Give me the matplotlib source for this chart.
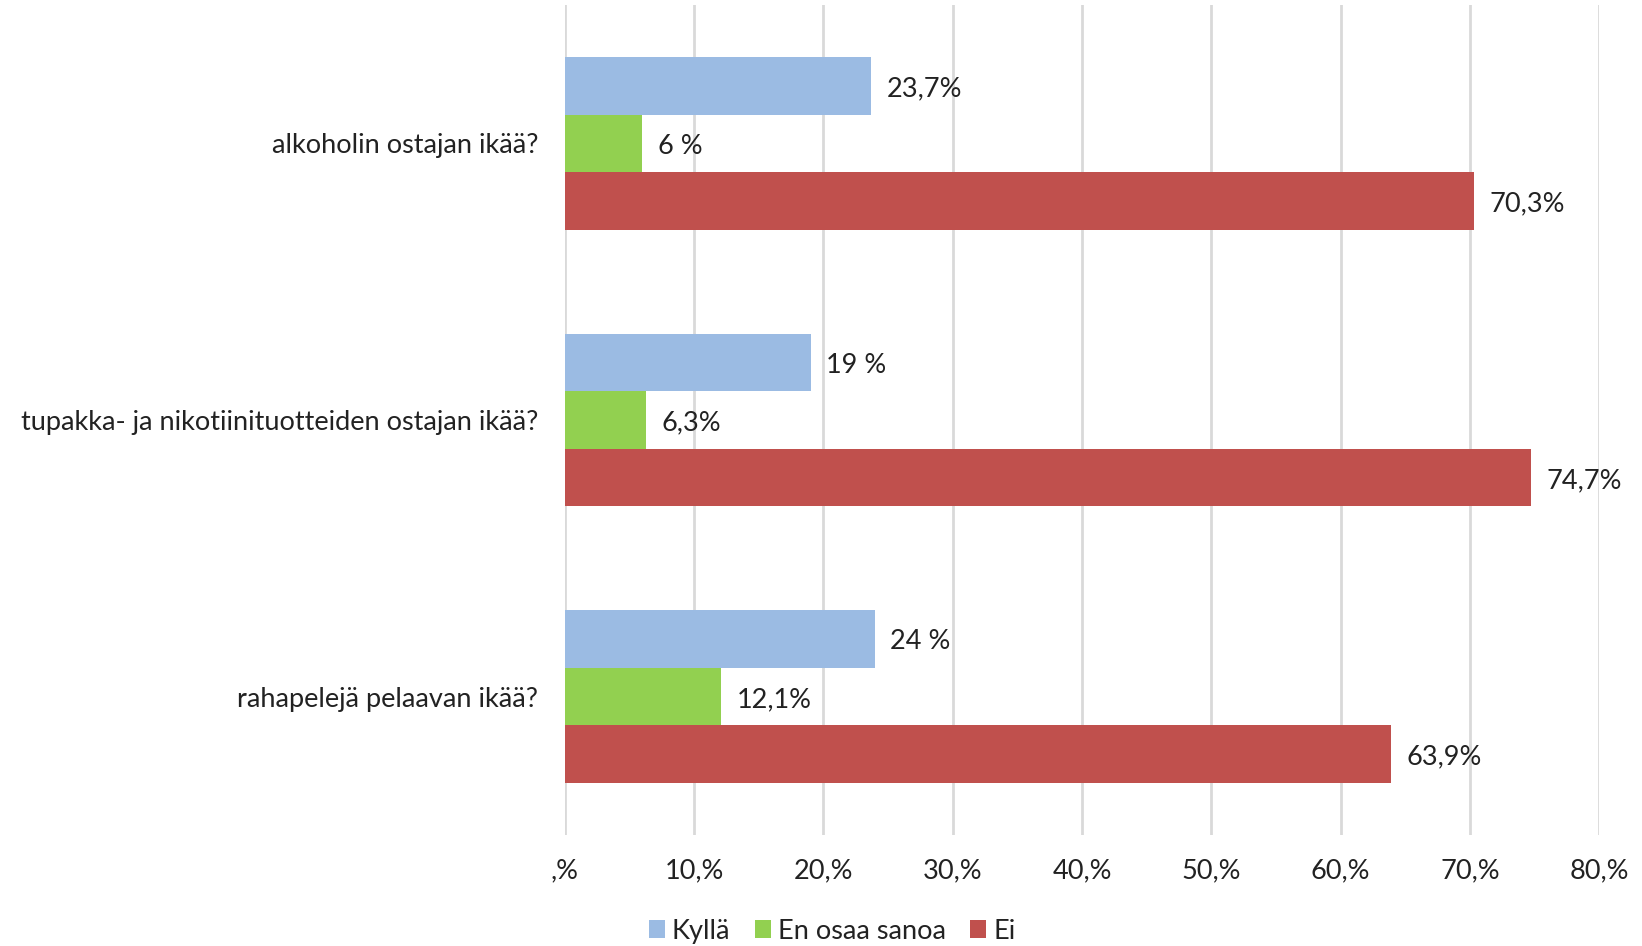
import matplotlib.pyplot as plt
import numpy as np

plt.rcParams['font.family'] = ['Lato', 'DejaVu Sans']

# Kysymykset
categories = ["alkoholin ostajan ikää?",
              "tupakka- ja nikotiinituotteiden ostajan ikää?",
              "rahapelejä pelaavan ikää?"]
series_names = ["Kyllä", "En osaa sanoa", "Ei"]
kylla = [23.7, 19.0, 24.0]
en_osaa = [6.0, 6.3, 12.1]
ei = [70.3, 74.7, 63.9]
labels_kylla = ["23,7%", "19 %", "24 %"]
labels_en_osaa = ["6 %", "6,3%", "12,1%"]
labels_ei = ["70,3%", "74,7%", "63,9%"]
ticks = [0, 10, 20, 30, 40, 50, 60, 70, 80]
tick_labels = [",%", "10,%", "20,%", "30,%", "40,%", "50,%", "60,%", "70,%", "80,%"]

colors = ["#9BBBE3", "#92D050", "#C0504D"]
fs = 19.5

fig = plt.figure(figsize=(16.42, 9.46), dpi=100)
ax = fig.add_axes([0.344, 0.1173, 0.630, 0.8774])

y = np.arange(len(categories))
h = 0.208
values = [kylla, en_osaa, ei]
texts = [labels_kylla, labels_en_osaa, labels_ei]
for i in range(3):
    pos = y + (i - 1) * h
    bars = ax.barh(pos, values[i], height=h, color=colors[i], label=series_names[i], zorder=3)
    for b, t in zip(bars, texts[i]):
        ax.annotate(t, (b.get_width(), b.get_y() + b.get_height() / 2),
                    xytext=(11, -2), textcoords="offset points",
                    va="center", ha="left", fontsize=fs, color="#222222")

ax.set_xlim(0, 80)
ax.set_ylim(2.5, -0.5)
ax.set_xticks(ticks)
ax.set_xticklabels(tick_labels, fontsize=fs, color="#222222")
ax.set_yticks(y)
ax.set_yticklabels(categories, fontsize=fs, color="#222222")
ax.tick_params(axis="both", length=0)
ax.tick_params(axis="x", pad=17)
ax.tick_params(axis="y", pad=19)
ax.grid(axis="x", color="#D9D9D9", linewidth=2, zorder=0)
for s in ax.spines.values():
    s.set_visible(False)

fig.legend(loc="center", bbox_to_anchor=(832 / 1642, 1 - 931 / 946), ncol=3,
           frameon=False, fontsize=fs, handlelength=0.6, handleheight=0.6,
           handletextpad=0.25, columnspacing=0.9, labelcolor="#222222")

fig.savefig("out.png", dpi=100)
